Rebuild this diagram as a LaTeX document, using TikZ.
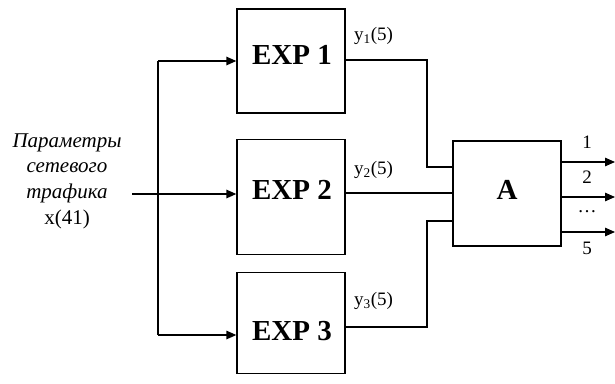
\documentclass[tikz,border=0pt]{standalone}
\usepackage{fontspec}
\setmainfont{Liberation Serif}
\usetikzlibrary{arrows.meta}
\begin{document}
\begin{tikzpicture}[x=1pt,y=-1pt,
  blk/.style={draw,line width=1.3pt,inner sep=0pt},
  con/.style={line width=1.3pt},
  arr/.style={line width=1.3pt,-{Triangle[length=10pt,width=8.5pt]}},
  big/.style={font=\fontsize{29}{29}\selectfont\bfseries,inner sep=0pt},
  lbl/.style={font=\fontsize{19}{19}\selectfont,inner sep=0pt}]
\useasboundingbox (0,0) rectangle (615,383);
\node[blk,minimum width=108pt,minimum height=104pt] (e1) at (291,61) {};
\node[blk,minimum width=108pt,minimum height=115pt] (e2) at (291,197) {};
\node[blk,minimum width=108pt,minimum height=101pt] (e3) at (291,323) {};
\node[blk,minimum width=108pt,minimum height=105pt] (a) at (507,193.5) {};
\node[big] at (292,55) {EXP 1};
\node[big] at (292,190) {EXP 2};
\node[big] at (292,331) {EXP 3};
\node[big] at (507,190) {A};
\node[align=center,font=\fontsize{21}{25.7}\selectfont] (in) at (67,181)
  {\itshape Параметры\\ \itshape сетевого\\ \itshape трафика\\ x(41)};
\coordinate (s) at (132,194);
\coordinate (b1) at (158,61);
\coordinate (b3) at (158,335);
\draw[arr] (s) -- (s -| e2.west);
\draw[arr] (b1) -- (b1 -| e1.west);
\draw[arr] (b3) -- (b3 -| e3.west);
\draw[con] (b1) -- (b3);
\coordinate (o1) at (345,60);
\coordinate (k1) at (427,60);
\coordinate (k1b) at (427,167);
\draw[con] (o1) -- (k1) -- (k1b) -- (k1b -| a.west);
\coordinate (o2) at (345,193);
\draw[con] (o2) -- (o2 -| a.west);
\coordinate (o3) at (345,327);
\coordinate (k3) at (427,327);
\coordinate (k3b) at (427,221);
\draw[con] (o3) -- (k3) -- (k3b) -- (k3b -| a.west);
\coordinate (r1) at (615,162);
\coordinate (r2) at (615,197);
\coordinate (r3) at (615,232);
\draw[arr] (r1 -| a.east) -- (r1);
\draw[arr] (r2 -| a.east) -- (r2);
\draw[arr] (r3 -| a.east) -- (r3);
\node[lbl] at (587,142) {1};
\node[lbl] at (587,177) {2};
\node[lbl] at (587,212) {\dots};
\node[lbl] at (587,248) {5};
\node[lbl,anchor=west] at (354,36) {y\textsubscript{1}(5)};
\node[lbl,anchor=west] at (354,170) {y\textsubscript{2}(5)};
\node[lbl,anchor=west] at (354,301) {y\textsubscript{3}(5)};
\end{tikzpicture}
\end{document}
